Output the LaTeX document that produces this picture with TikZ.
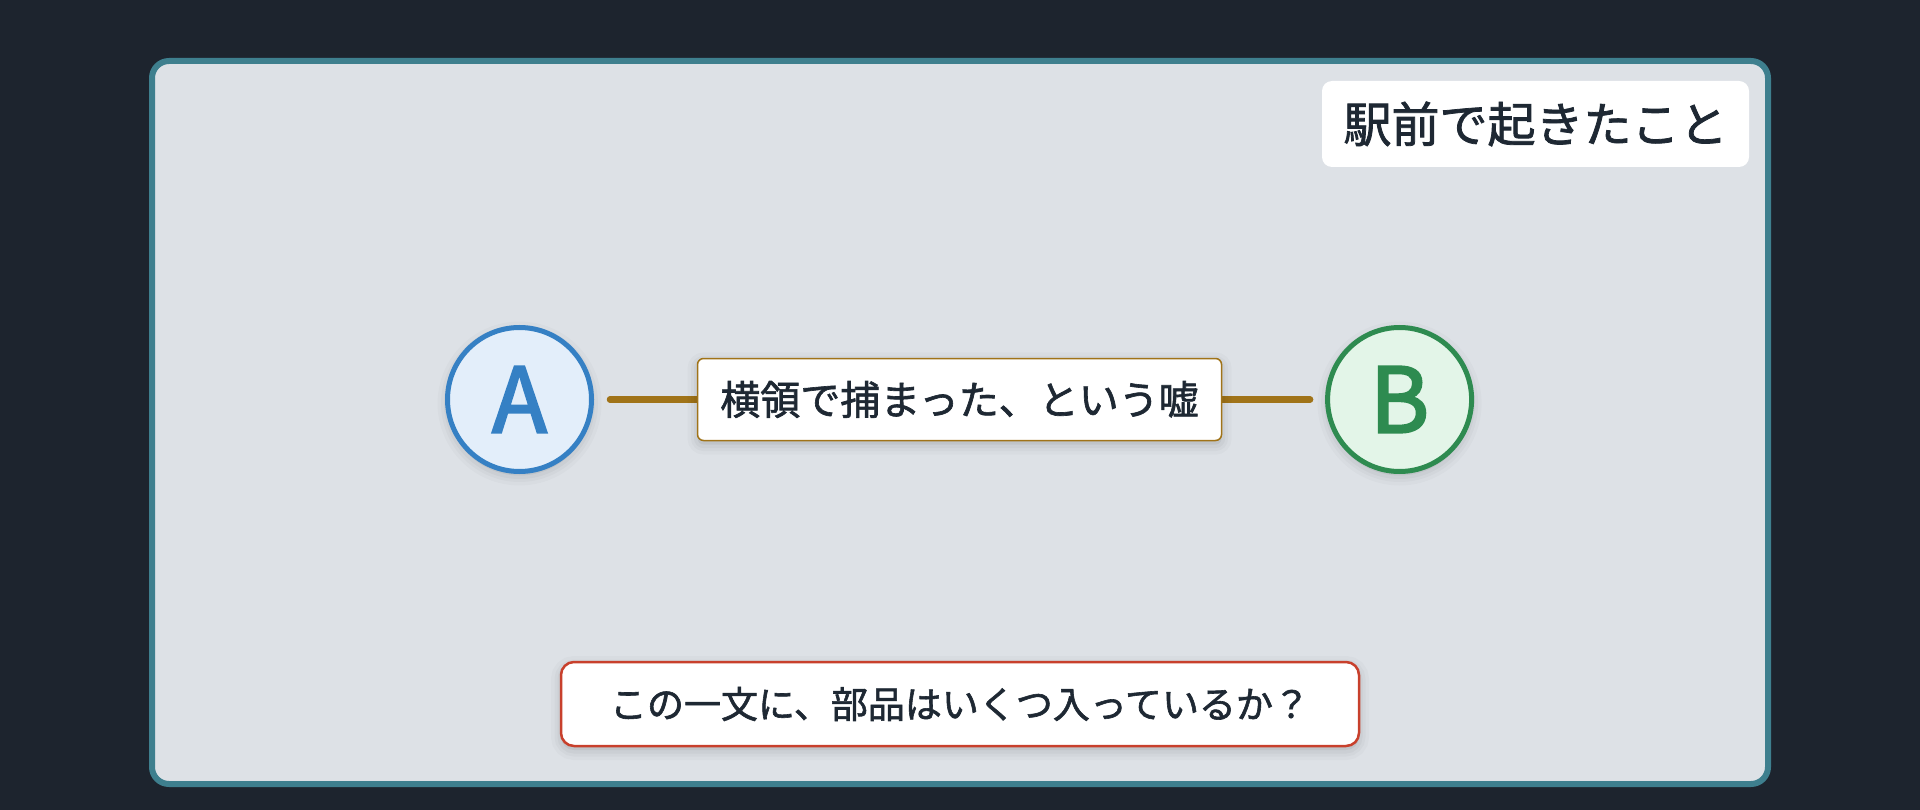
\documentclass[tikz,border=0pt]{standalone}
\usepackage{fontspec}
\setmainfont{Noto Sans CJK JP}
\newfontfamily\medfont{Noto Sans CJK JP}[FakeBold=1.6]
\newfontfamily\heavyfont{Noto Sans CJK JP}[FakeBold=2.6]
\definecolor{bgdark}{HTML}{1D242E}
\definecolor{panel}{HTML}{DDE1E6}
\definecolor{teal}{HTML}{3E7F8E}
\definecolor{ink}{HTML}{1E2833}
\definecolor{ablue}{HTML}{3580C4}
\definecolor{afill}{HTML}{E3EEFA}
\definecolor{bgreen}{HTML}{2E8B50}
\definecolor{bfill}{HTML}{E3F5E8}
\definecolor{brown}{HTML}{A07318}
\definecolor{qred}{HTML}{C8402C}
\tikzset{
  softshadow/.style={
    preaction={draw=black, draw opacity=0.02, line width=20pt, transform canvas={yshift=-4pt}},
    preaction={draw=black, draw opacity=0.025, line width=13pt, transform canvas={yshift=-4pt}},
    preaction={draw=black, draw opacity=0.03, line width=7pt, fill=black, fill opacity=0.05, transform canvas={yshift=-4pt}}},
  endpoint/.style={circle, line width=5pt, minimum size=144pt, inner sep=0pt, softshadow, font=\heavyfont\fontsize{90}{100}\selectfont},
  titlebox/.style={fill=white, rounded corners=10pt, minimum width=427pt, minimum height=86pt, inner sep=0pt, text=ink, font=\medfont\fontsize{48}{56}\selectfont},
  edgelabel/.style={fill=white, draw=brown, line width=1.5pt, rounded corners=6pt, minimum width=524pt, minimum height=82pt, inner sep=0pt, text=ink, softshadow, font=\medfont\fontsize{40}{48}\selectfont},
  questionbox/.style={fill=white, draw=qred, line width=2.5pt, rounded corners=13pt, minimum width=798pt, minimum height=84pt, inner sep=0pt, text=ink, softshadow, font=\medfont\fontsize{37}{44}\selectfont},
  connector/.style={draw=brown, line width=6.5pt, line cap=round}
}
\begin{document}
\begin{tikzpicture}[x=1pt,y=-1pt]
  \fill[bgdark] (0,0) rectangle (1920,810);
  \useasboundingbox (0,0) rectangle (1920,810);
  \draw[teal, fill=panel, line width=6pt, rounded corners=17pt] (152,61) rectangle (1768,784);
  \node[titlebox] (title) at (1535.5,124) {駅前で起きたこと};
  \node[endpoint, draw=ablue, fill=afill, text=ablue] (A) at (519.5,399.5) {A};
  \node[endpoint, draw=bgreen, fill=bfill, text=bgreen] (B) at (1399.6,399.5) {B};
  \draw[connector, shorten <=16pt, shorten >=15pt] (A) -- (B)
    node[edgelabel, midway] (lbl) {横領で捕まった、という嘘};
  \node[questionbox] (q) at (960,704) {この一文に、部品はいくつ入っているか？};
\end{tikzpicture}
\end{document}
